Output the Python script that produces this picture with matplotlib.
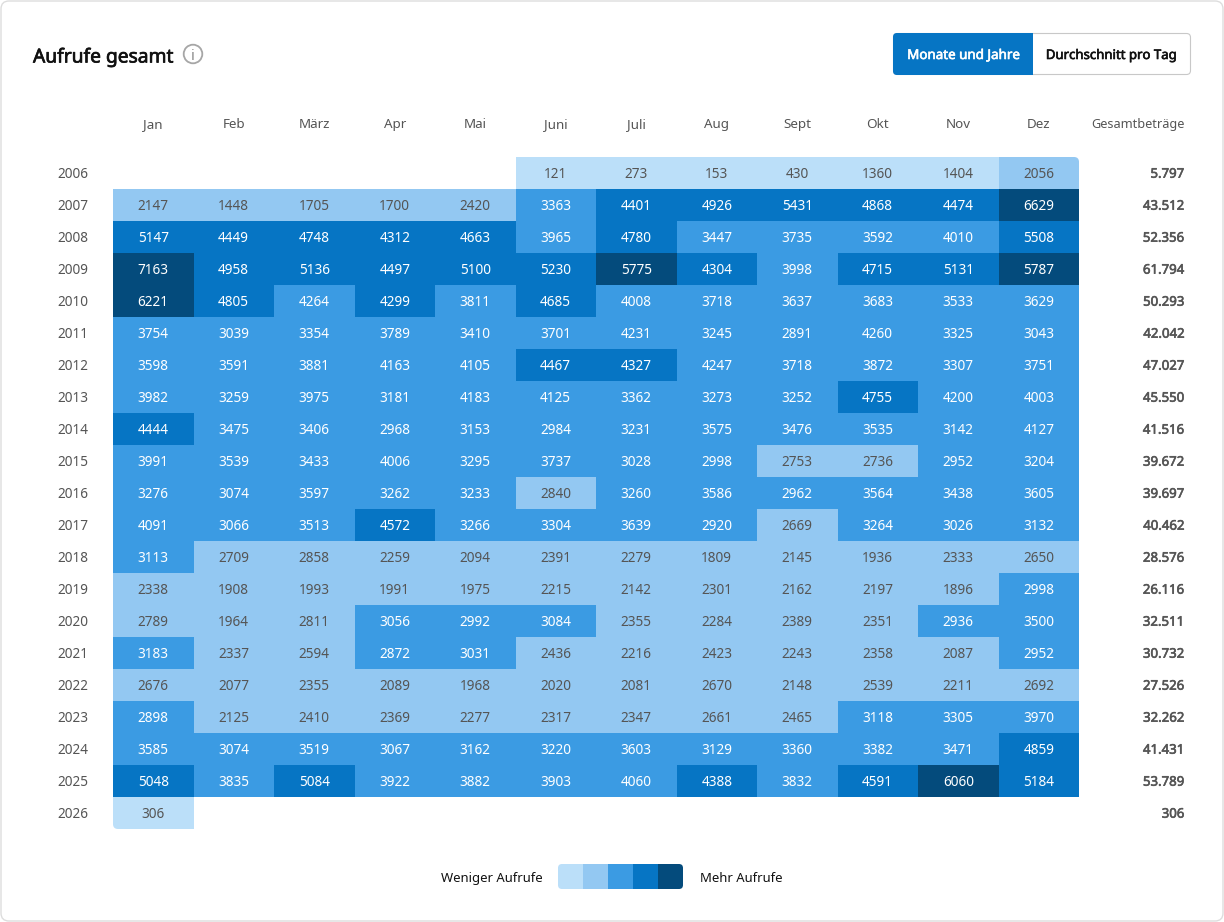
import numpy as np
import matplotlib
matplotlib.use("Agg")
import matplotlib.pyplot as plt
import matplotlib.patheffects as pe
from matplotlib.colors import ListedColormap, BoundaryNorm
from matplotlib.patches import FancyBboxPatch, Circle, Rectangle

plt.rcParams["font.family"] = ["Noto Sans", "DejaVu Sans"]

months = ["Jan", "Feb", "März", "Apr", "Mai", "Juni", "Juli", "Aug", "Sept", "Okt", "Nov", "Dez"]
years = list(range(2006, 2027))
nan = np.nan

views_2006 = [nan, nan, nan, nan, nan, 121, 273, 153, 430, 1360, 1404, 2056]
views_2007 = [2147, 1448, 1705, 1700, 2420, 3363, 4401, 4926, 5431, 4868, 4474, 6629]
views_2008 = [5147, 4449, 4748, 4312, 4663, 3965, 4780, 3447, 3735, 3592, 4010, 5508]
views_2009 = [7163, 4958, 5136, 4497, 5100, 5230, 5775, 4304, 3998, 4715, 5131, 5787]
views_2010 = [6221, 4805, 4264, 4299, 3811, 4685, 4008, 3718, 3637, 3683, 3533, 3629]
views_2011 = [3754, 3039, 3354, 3789, 3410, 3701, 4231, 3245, 2891, 4260, 3325, 3043]
views_2012 = [3598, 3591, 3881, 4163, 4105, 4467, 4327, 4247, 3718, 3872, 3307, 3751]
views_2013 = [3982, 3259, 3975, 3181, 4183, 4125, 3362, 3273, 3252, 4755, 4200, 4003]
views_2014 = [4444, 3475, 3406, 2968, 3153, 2984, 3231, 3575, 3476, 3535, 3142, 4127]
views_2015 = [3991, 3539, 3433, 4006, 3295, 3737, 3028, 2998, 2753, 2736, 2952, 3204]
views_2016 = [3276, 3074, 3597, 3262, 3233, 2840, 3260, 3586, 2962, 3564, 3438, 3605]
views_2017 = [4091, 3066, 3513, 4572, 3266, 3304, 3639, 2920, 2669, 3264, 3026, 3132]
views_2018 = [3113, 2709, 2858, 2259, 2094, 2391, 2279, 1809, 2145, 1936, 2333, 2650]
views_2019 = [2338, 1908, 1993, 1991, 1975, 2215, 2142, 2301, 2162, 2197, 1896, 2998]
views_2020 = [2789, 1964, 2811, 3056, 2992, 3084, 2355, 2284, 2389, 2351, 2936, 3500]
views_2021 = [3183, 2337, 2594, 2872, 3031, 2436, 2216, 2423, 2243, 2358, 2087, 2952]
views_2022 = [2676, 2077, 2355, 2089, 1968, 2020, 2081, 2670, 2148, 2539, 2211, 2692]
views_2023 = [2898, 2125, 2410, 2369, 2277, 2317, 2347, 2661, 2465, 3118, 3305, 3970]
views_2024 = [3585, 3074, 3519, 3067, 3162, 3220, 3603, 3129, 3360, 3382, 3471, 4859]
views_2025 = [5048, 3835, 5084, 3922, 3882, 3903, 4060, 4388, 3832, 4591, 6060, 5184]
views_2026 = [306, nan, nan, nan, nan, nan, nan, nan, nan, nan, nan, nan]

totals = ["5.797", "43.512", "52.356", "61.794", "50.293", "42.042", "47.027", "45.550",
          "41.516", "39.672", "39.697", "40.462", "28.576", "26.116", "32.511", "30.732",
          "27.526", "32.262", "41.431", "53.789", "306"]

# Klassengrenzen der fuenf Farbstufen
bins = [0, 1425, 2865, 4280, 5700, 8000]
colors = ["#BBDFF9", "#93C8F2", "#3B9BE3", "#0675C4", "#044B7C"]

views = np.array([views_2006, views_2007, views_2008, views_2009, views_2010, views_2011, views_2012,
                  views_2013, views_2014, views_2015, views_2016, views_2017, views_2018, views_2019,
                  views_2020, views_2021, views_2022, views_2023, views_2024, views_2025, views_2026])

W, H = 1224, 922
PX = 0.72
dark = "#111111"
grey = "#555555"
cmap = ListedColormap(colors)
norm = BoundaryNorm(bins, cmap.N)

fig = plt.figure(figsize=(W / 100, H / 100), dpi=100, facecolor="white")


def pixel_axes(x0, y0, x1, y1):
    return fig.add_axes([x0 / W, 1 - y1 / H, (x1 - x0) / W, (y1 - y0) / H])


def semibold(txt, width=0.45):
    # Noto Sans kommt hier nur in einem Schnitt, also mit Kontur verstaerken
    txt.set_path_effects([pe.withStroke(linewidth=width, foreground=txt.get_color())])
    return txt


# Hintergrund in Pixelkoordinaten
bg = pixel_axes(0, 0, W, H)
bg.set_xlim(0, W)
bg.set_ylim(H, 0)
bg.axis("off")
bg.add_patch(FancyBboxPatch((1, 1), W - 2, H - 2, boxstyle="round,pad=0,rounding_size=8",
                            fc="white", ec="#DDDDDD", lw=1))

semibold(bg.text(33, 55, "Aufrufe gesamt", fontsize=19.2 * PX, color=dark, va="center_baseline"), 0.5)
bg.add_patch(Circle((193, 54), 9.3, fc="none", ec="#A6A6A6", lw=1.3))
bg.text(193, 54, "i", fontsize=15 * PX, color="#8C8C8C", ha="center", va="center_baseline")

# Umschalter oben rechts
bg.add_patch(FancyBboxPatch((893.5, 33.5), 297, 41, boxstyle="round,pad=0,rounding_size=4",
                            fc="white", ec="#C8C8C8", lw=0.8))
btn = FancyBboxPatch((893, 33), 298, 42, boxstyle="round,pad=0,rounding_size=4", fc="#0675C4", ec="none")
bg.add_patch(btn)
left = Rectangle((893, 33), 140, 42, fc="#0675C4", ec="none")
bg.add_patch(left)
left.set_clip_path(btn)
btn.set_visible(False)
semibold(bg.text(963.5, 54, "Monate und Jahre", fontsize=13.4 * PX, color="white",
                 ha="center", va="center_baseline"))
semibold(bg.text(1111.5, 54, "Durchschnitt pro Tag", fontsize=13.2 * PX, color=dark,
                 ha="center", va="center_baseline"))

# Heatmap
ax = pixel_axes(113, 157, 1079, 829)
ax.patch.set_alpha(0)
mesh = ax.pcolormesh(np.arange(13), np.arange(22), np.ma.masked_invalid(views), cmap=cmap, norm=norm)
ax.set_xlim(0, 12)
ax.set_ylim(21, 0)
ax.axis("off")
clip = FancyBboxPatch((113, 157), 966, 672, boxstyle="round,pad=0,rounding_size=5",
                      fc="none", ec="none", transform=bg.transData)
mesh.set_clip_path(clip)

for r, year in enumerate(years):
    ax.text(-0.31, r + 0.49, str(year), fontsize=13.6 * PX, color=grey, ha="right", va="center_baseline",
            clip_on=False)
    semibold(ax.text(13.31, r + 0.49, totals[r], fontsize=13.2 * PX, color=grey, ha="right",
                     va="center_baseline", clip_on=False))
    for c in range(12):
        v = views[r, c]
        if np.isnan(v):
            continue
        ax.text(c + 0.5, r + 0.49, str(int(v)), fontsize=13.6 * PX, ha="center", va="center_baseline",
                color="white" if v >= bins[2] else grey)

# Kopfzeile auf gemeinsamer Grundlinie
for c, name in enumerate(months):
    ax.text(c + 0.5, -0.91, name, fontsize=13.4 * PX, color=grey, ha="center", va="baseline",
            clip_on=False)
ax.text(13.31, -0.91, "Gesamtbeträge", fontsize=12.7 * PX, color=grey, ha="right", va="baseline",
        clip_on=False)

# Legende
leg = pixel_axes(558, 864, 683, 889)
leg.patch.set_alpha(0)
swatch = leg.pcolormesh(np.arange(6), [0, 1], [np.arange(5)], cmap=cmap, vmin=-0.5, vmax=4.5)
leg.axis("off")
swatch.set_clip_path(FancyBboxPatch((558, 864), 125, 25, boxstyle="round,pad=0,rounding_size=4",
                                    fc="none", ec="none", transform=bg.transData))
bg.text(543, 877, "Weniger Aufrufe", fontsize=13.1 * PX, color=dark, ha="right", va="center_baseline")
bg.text(700, 877, "Mehr Aufrufe", fontsize=13.1 * PX, color=dark, ha="left", va="center_baseline")

fig.savefig("out.png", dpi=100)
